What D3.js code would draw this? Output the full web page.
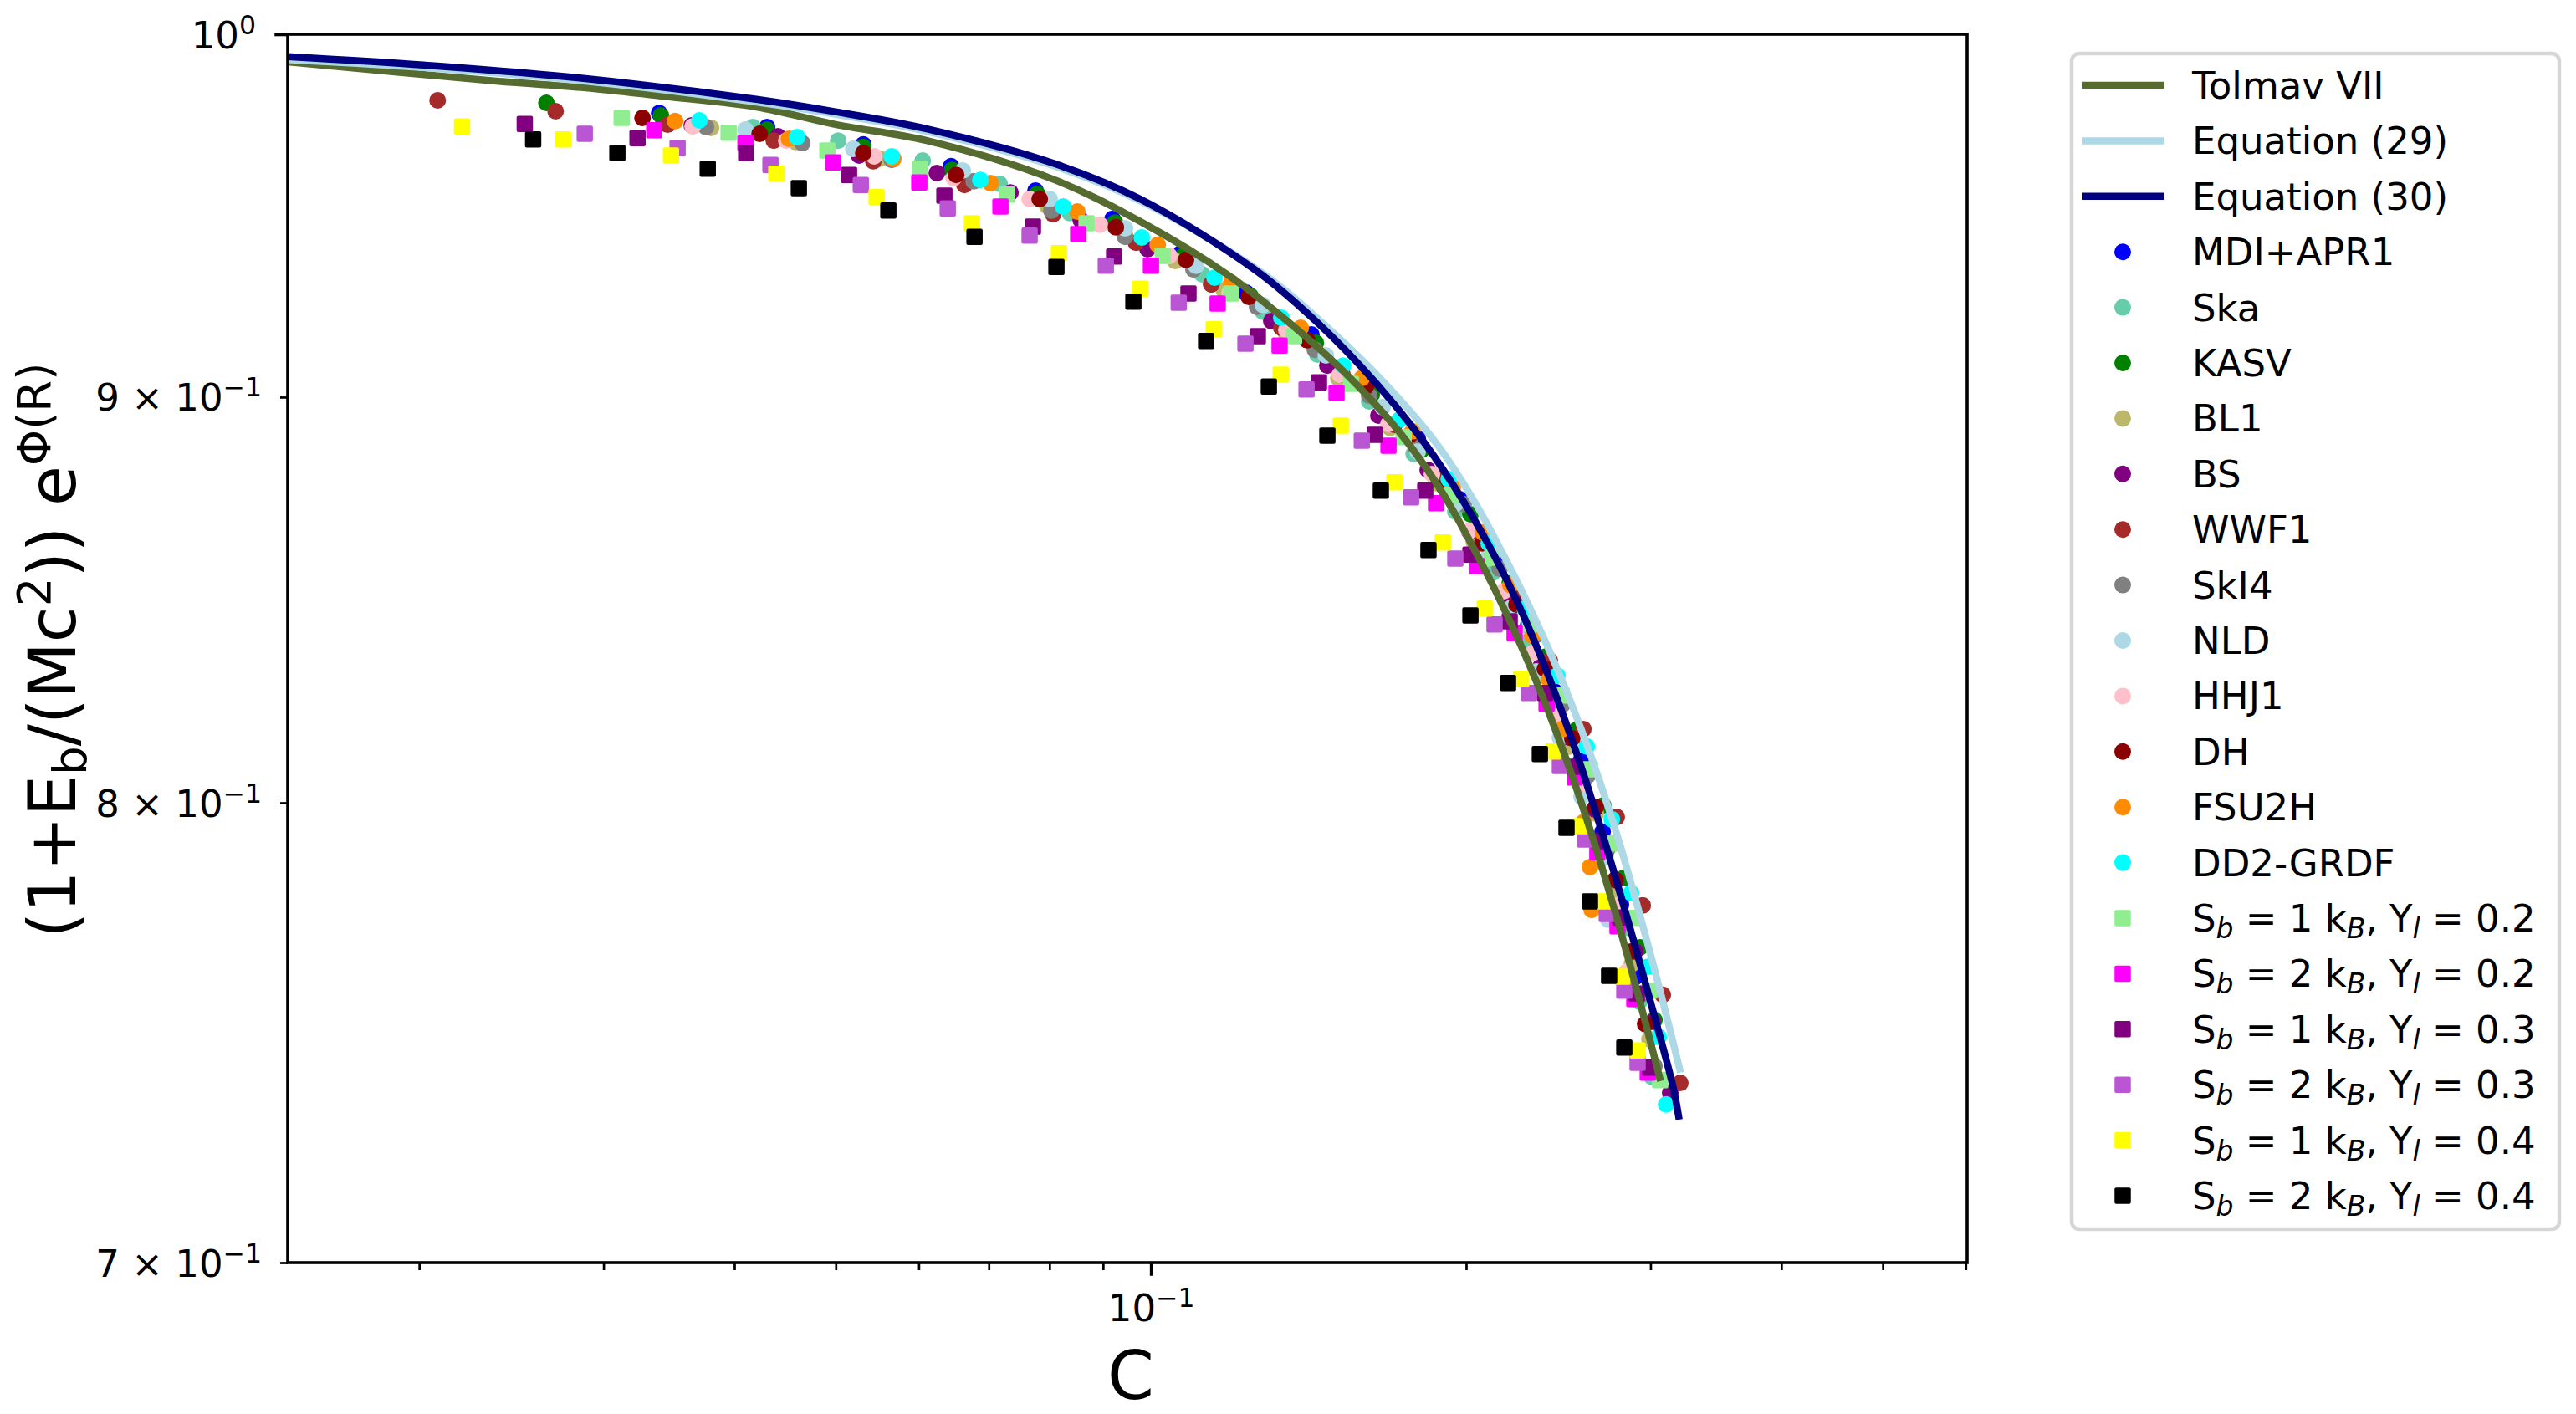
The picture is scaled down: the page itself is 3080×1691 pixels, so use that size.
<!DOCTYPE html>
<html>
<head>
<meta charset="utf-8">
<script src="https://cdn.jsdelivr.net/npm/d3@7"></script>
<style>
  body { margin: 0; background: #fff; }
  text { font-family: 'DejaVu Sans', sans-serif; fill: #000; }
</style>
</head>
<body>
<svg id="chart"></svg>
<script>
// curves: [C, (1+Eb/Mc^2) e^phi]
let tolmavVII = [[0.01498,0.9920],[0.02370,0.9865],[0.02884,0.9846],[0.03467,0.9820],[0.04198,0.9791],[0.05008,0.9741],[0.06108,0.9696],[0.08093,0.9586],[0.09764,0.9471],[0.1189,0.9322],[0.1352,0.9199],[0.1529,0.9066],[0.1727,0.8909],[0.1893,0.8759],[0.2032,0.8615],[0.2159,0.8480],[0.2316,0.8307],[0.2479,0.8118],[0.2639,0.7923],[0.2789,0.7733],[0.2934,0.7547],[0.3067,0.7379]]
let equation29 = [[0.01498,0.9927],[0.02083,0.9901],[0.02884,0.9865],[0.04198,0.9805],[0.05008,0.9770],[0.06108,0.9722],[0.08093,0.9624],[0.09764,0.9528],[0.1279,0.9329],[0.1490,0.9172],[0.1686,0.9026],[0.1872,0.8881],[0.2037,0.8731],[0.2174,0.8594],[0.2291,0.8476],[0.2453,0.8307],[0.2624,0.8118],[0.2789,0.7923],[0.2939,0.7733],[0.3086,0.7547],[0.3205,0.7397]]
let equation30 = [[0.01498,0.9935],[0.02083,0.9908],[0.02884,0.9872],[0.04198,0.9813],[0.05008,0.9777],[0.06108,0.9729],[0.08093,0.9631],[0.09764,0.9533],[0.1256,0.9340],[0.1442,0.9197],[0.1640,0.9037],[0.1825,0.8881],[0.1989,0.8731],[0.2129,0.8594],[0.2242,0.8476],[0.2391,0.8307],[0.2548,0.8118],[0.2703,0.7923],[0.2853,0.7733],[0.3003,0.7547],[0.3153,0.7366],[0.3195,0.7297]]

// equations of state (circles)
let mdiApr1 = [[0.03391,0.9774],[0.04299,0.9734],[0.05312,0.9685],[0.06443,0.9624],[0.07758,0.9556],[0.09189,0.9478],[0.1068,0.9384],[0.1233,0.9277],[0.1423,0.9165],[0.1610,0.9033],[0.1798,0.8892],[0.1971,0.8737],[0.2141,0.8584],[0.2292,0.8423],[0.2435,0.8261],[0.2573,0.8098],[0.2700,0.7933],[0.2811,0.7767],[0.2906,0.7606]]
let ska = [[0.04167,0.9734],[0.05027,0.9696],[0.06053,0.9640],[0.07169,0.9575],[0.08366,0.9494],[0.09746,0.9413],[0.1119,0.9327],[0.1279,0.9226],[0.1442,0.9112],[0.1616,0.8989],[0.1782,0.8853],[0.1953,0.8706],[0.2121,0.8553],[0.2292,0.8384],[0.2444,0.8217],[0.2588,0.8049],[0.2719,0.7881],[0.2832,0.7714],[0.2927,0.7551],[0.3009,0.7388]]
let kasv = [[0.02646,0.9803],[0.03404,0.9767],[0.04299,0.9727],[0.05312,0.9678],[0.06455,0.9614],[0.07787,0.9547],[0.09240,0.9468],[0.1074,0.9377],[0.1245,0.9268],[0.1437,0.9143],[0.1625,0.9007],[0.1815,0.8864],[0.2019,0.8699],[0.2201,0.8526],[0.2382,0.8347],[0.2550,0.8171],[0.2704,0.7994],[0.2827,0.7827],[0.2932,0.7671],[0.3026,0.7511]]
let bl1 = [[0.03801,0.9732],[0.04577,0.9692],[0.05511,0.9645],[0.06660,0.9582],[0.07960,0.9514],[0.09446,0.9434],[0.1055,0.9363],[0.1174,0.9284],[0.1345,0.9170],[0.1510,0.9050],[0.1692,0.8920],[0.1872,0.8778],[0.2034,0.8630],[0.2193,0.8476],[0.2347,0.8307],[0.2508,0.8132],[0.2660,0.7975],[0.2770,0.7795],[0.2879,0.7634],[0.2993,0.7469]]
let bs = [[0.03643,0.9739],[0.04403,0.9708],[0.05263,0.9654],[0.06245,0.9605],[0.07342,0.9551],[0.08568,0.9475],[0.09927,0.9395],[0.1142,0.9300],[0.1303,0.9201],[0.1474,0.9083],[0.1649,0.8952],[0.1838,0.8812],[0.2015,0.8655],[0.2189,0.8491],[0.2356,0.8323],[0.2508,0.8153],[0.2650,0.7985],[0.2780,0.7822],[0.2900,0.7662],[0.3015,0.7507],[0.3133,0.7354]]
let wwf1 = [[0.02083,0.9810],[0.02700,0.9779],[0.03454,0.9741],[0.04363,0.9696],[0.05430,0.9638],[0.06636,0.9572],[0.08064,0.9491],[0.09674,0.9413],[0.1142,0.9300],[0.1332,0.9183],[0.1524,0.9059],[0.1708,0.8928],[0.1889,0.8791],[0.2071,0.8647],[0.2242,0.8497],[0.2404,0.8337],[0.2588,0.8173],[0.2785,0.7967],[0.2949,0.7765],[0.3082,0.7566],[0.3203,0.7375]]
let skl4 = [[0.03759,0.9734],[0.04645,0.9689],[0.05655,0.9642],[0.06771,0.9582],[0.08034,0.9501],[0.09446,0.9429],[0.1098,0.9340],[0.1263,0.9239],[0.1434,0.9125],[0.1616,0.9004],[0.1791,0.8870],[0.1989,0.8725],[0.2153,0.8563],[0.2326,0.8398],[0.2471,0.8231],[0.2612,0.8063],[0.2730,0.7894],[0.2842,0.7727],[0.2938,0.7566],[0.3026,0.7411]]
let nld = [[0.04099,0.9727],[0.05196,0.9673],[0.06611,0.9612],[0.08004,0.9533],[0.09446,0.9452],[0.1104,0.9350],[0.1279,0.9244],[0.1469,0.9110],[0.1664,0.8974],[0.1798,0.8859],[0.1953,0.8725],[0.2094,0.8588],[0.2209,0.8466],[0.2334,0.8311],[0.2458,0.8153],[0.2578,0.8014],[0.2680,0.7865],[0.2735,0.7733]]
let hhj1 = [[0.03650,0.9736],[0.04485,0.9696],[0.05440,0.9652],[0.06479,0.9591],[0.07658,0.9533],[0.08939,0.9462],[0.1041,0.9377],[0.1189,0.9277],[0.1347,0.9177],[0.1515,0.9059],[0.1686,0.8930],[0.1855,0.8801],[0.2015,0.8657],[0.2173,0.8507],[0.2317,0.8356],[0.2449,0.8203],[0.2573,0.8043],[0.2680,0.7904],[0.2770,0.7765],[0.2847,0.7617]]
let dh = [[0.03269,0.9760],[0.04229,0.9715],[0.05312,0.9661],[0.06515,0.9600],[0.07830,0.9533],[0.09257,0.9455],[0.1080,0.9366],[0.1240,0.9266],[0.1410,0.9150],[0.1604,0.9028],[0.1768,0.8902],[0.1907,0.8767],[0.2071,0.8626],[0.2234,0.8474],[0.2378,0.8317],[0.2526,0.8151],[0.2660,0.7990],[0.2775,0.7823],[0.2879,0.7662],[0.2965,0.7502]]
let fsu2h = [[0.03512,0.9751],[0.04510,0.9701],[0.05675,0.9645],[0.07025,0.9577],[0.08505,0.9498],[0.1015,0.9407],[0.1193,0.9304],[0.1390,0.9183],[0.1590,0.9050],[0.1778,0.8911],[0.1942,0.8767],[0.2075,0.8653],[0.2205,0.8522],[0.2313,0.8398],[0.2400,0.8291],[0.2471,0.8173],[0.2540,0.8059],[0.2592,0.7956],[0.2626,0.7852],[0.2636,0.7755]]
let dd2Grdf = [[0.03704,0.9753],[0.04593,0.9706],[0.05655,0.9652],[0.06872,0.9586],[0.08244,0.9512],[0.09800,0.9427],[0.1150,0.9318],[0.1332,0.9210],[0.1526,0.9083],[0.1727,0.8941],[0.1925,0.8788],[0.2102,0.8626],[0.2275,0.8464],[0.2444,0.8301],[0.2607,0.8132],[0.2755,0.7962],[0.2874,0.7793],[0.2982,0.7628],[0.3054,0.7474],[0.3105,0.7329]]

// hot stars (squares)
let sb1Yl02 = [[0.03122,0.9760],[0.03950,0.9718],[0.04908,0.9668],[0.06019,0.9617],[0.07288,0.9545],[0.08679,0.9466],[0.1026,0.9377],[0.1193,0.9275],[0.1370,0.9161],[0.1552,0.9035],[0.1743,0.8896],[0.1935,0.8746],[0.2118,0.8590],[0.2300,0.8425],[0.2467,0.8253],[0.2626,0.8078],[0.2760,0.7906],[0.2884,0.7737],[0.2993,0.7575],[0.3064,0.7381]]
let sb2Yl02 = [[0.03354,0.9725],[0.04099,0.9689],[0.04972,0.9635],[0.06008,0.9579],[0.07182,0.9512],[0.08521,0.9436],[0.1000,0.9350],[0.1158,0.9248],[0.1327,0.9136],[0.1504,0.9011],[0.1686,0.8874],[0.1872,0.8727],[0.2049,0.8569],[0.2225,0.8404],[0.2387,0.8233],[0.2540,0.8059],[0.2669,0.7886],[0.2790,0.7718],[0.2895,0.7557],[0.2982,0.7397]]
let sb1Yl03 = [[0.02523,0.9743],[0.03233,0.9703],[0.04106,0.9661],[0.05148,0.9600],[0.06349,0.9542],[0.07714,0.9457],[0.09222,0.9375],[0.1086,0.9275],[0.1265,0.9161],[0.1447,0.9039],[0.1636,0.8902],[0.1828,0.8759],[0.2019,0.8598],[0.2201,0.8433],[0.2378,0.8259],[0.2540,0.8084],[0.2680,0.7911],[0.2806,0.7738],[0.2911,0.7569],[0.2998,0.7408]]
let sb2Yl03 = [[0.02879,0.9715],[0.03531,0.9675],[0.04331,0.9628],[0.05283,0.9572],[0.06396,0.9507],[0.07658,0.9432],[0.09055,0.9350],[0.1063,0.9250],[0.1231,0.9141],[0.1408,0.9020],[0.1590,0.8887],[0.1772,0.8742],[0.1953,0.8588],[0.2129,0.8425],[0.2296,0.8259],[0.2458,0.8086],[0.2597,0.7915],[0.2725,0.7746],[0.2832,0.7575],[0.2916,0.7418]]
let sb1Yl04 = [[0.02198,0.9736],[0.02745,0.9699],[0.03480,0.9654],[0.04387,0.9603],[0.05470,0.9538],[0.06746,0.9466],[0.08168,0.9384],[0.09764,0.9288],[0.1148,0.9179],[0.1330,0.9059],[0.1518,0.8926],[0.1708,0.8780],[0.1900,0.8628],[0.2083,0.8464],[0.2257,0.8293],[0.2422,0.8120],[0.2578,0.7946],[0.2709,0.7774],[0.2821,0.7606],[0.2916,0.7445]]
let sb2Yl04 = [[0.02570,0.9699],[0.03093,0.9661],[0.03773,0.9617],[0.04610,0.9563],[0.05613,0.9501],[0.06784,0.9429],[0.08123,0.9347],[0.09621,0.9253],[0.1129,0.9148],[0.1296,0.9028],[0.1474,0.8900],[0.1658,0.8759],[0.1841,0.8609],[0.2019,0.8447],[0.2193,0.8283],[0.2352,0.8114],[0.2494,0.7942],[0.2626,0.7774],[0.2739,0.7608],[0.2832,0.7451]]

let lineNames = ['Tolmav VII', 'Equation (29)', 'Equation (30)']
let lineColors = ['#556b2f', '#add8e6', '#000080']
let lineData = [tolmavVII, equation29, equation30]

let circleNames = ['MDI+APR1', 'Ska', 'KASV', 'BL1', 'BS', 'WWF1', 'SkI4', 'NLD', 'HHJ1', 'DH', 'FSU2H', 'DD2-GRDF']
let circleColors = ['#0000ff', '#66cdaa', '#008000', '#bdb76b', '#800080', '#a52a2a', '#808080', '#add8e6', '#ffc0cb', '#8b0000', '#ff8c00', '#00ffff']
let circleData = [mdiApr1, ska, kasv, bl1, bs, wwf1, skl4, nld, hhj1, dh, fsu2h, dd2Grdf]

// squares: entropy per baryon, lepton fraction
let squareSb = [1, 2, 1, 2, 1, 2]
let squareYl = ['0.2', '0.2', '0.3', '0.3', '0.4', '0.4']
let squareColors = ['#90ee90', '#ff00ff', '#800080', '#ba55d3', '#ffff00', '#000000']
let squareData = [sb1Yl02, sb2Yl02, sb1Yl03, sb2Yl03, sb1Yl04, sb2Yl04]

let xDomain = [0.01498, 0.6019]
let yDomain = [0.7, 1.0]
let xMajorTicks = [0.1]
let xMinorTicks = [0.02, 0.03, 0.04, 0.05, 0.06, 0.07, 0.08, 0.09, 0.2, 0.3, 0.4, 0.5, 0.6]
let yMajorTicks = [1.0]
let yMinorTicks = [0.7, 0.8, 0.9]
let yTickMantissa = { 1: '', 0.9: '9 \u00d7 ', 0.8: '8 \u00d7 ', 0.7: '7 \u00d7 ' }
let yTickExponent = { 1: '0', 0.9: '\u22121', 0.8: '\u22121', 0.7: '\u22121' }

let W = 3080
let H = 1691
let margin = { top: 41, left: 344, right: 728, bottom: 181 }
let width = W - margin.left - margin.right
let height = H - margin.top - margin.bottom

let root = d3.select('#chart').attr('width', W).attr('height', H)
root.append('rect').attr('width', W).attr('height', H).attr('fill', '#fff')

let svg = root.append('g')
  .attr('transform', 'translate(' + margin.left + ',' + margin.top + ')')

let xPositionScale = d3.scaleLog().domain(xDomain).range([0, width])
let yPositionScale = d3.scaleLog().domain(yDomain).range([height, 0])

svg.append('clipPath').attr('id', 'plot-clip')
  .append('rect').attr('width', width).attr('height', height)

let plot = svg.append('g').attr('clip-path', 'url(#plot-clip)')

// circles first, then squares, in legend order
circleData.forEach((series, i) => {
  plot.append('g')
    .selectAll('circle')
    .data(series)
    .enter()
    .append('circle')
    .attr('cx', d => xPositionScale(d[0]))
    .attr('cy', d => yPositionScale(d[1]))
    .attr('r', 10)
    .attr('fill', circleColors[i])
})

let sq = 19.5
squareData.forEach((series, i) => {
  plot.append('g')
    .selectAll('rect')
    .data(series)
    .enter()
    .append('rect')
    .attr('x', d => xPositionScale(d[0]) - sq / 2)
    .attr('y', d => yPositionScale(d[1]) - sq / 2)
    .attr('width', sq)
    .attr('height', sq)
    .attr('rx', 2)
    .attr('fill', squareColors[i])
})

let line = d3.line()
  .x(d => xPositionScale(d[0]))
  .y(d => yPositionScale(d[1]))
  .curve(d3.curveCatmullRom.alpha(0.5))

lineData.forEach((series, i) => {
  plot.append('path')
    .attr('d', line(series))
    .attr('fill', 'none')
    .attr('stroke', lineColors[i])
    .attr('stroke-width', 8.5)
})

// frame
svg.append('rect')
  .attr('width', width)
  .attr('height', height)
  .attr('fill', 'none')
  .attr('stroke', '#000')
  .attr('stroke-width', 3.6)

// axes
function cleanAxis(g, w) {
  g.select('.domain').remove()
  g.selectAll('.tick line').attr('stroke', '#000').attr('stroke-width', w)
}

svg.append('g')
  .attr('transform', 'translate(0,' + height + ')')
  .call(d3.axisBottom(xPositionScale).tickValues(xMinorTicks).tickSize(9).tickFormat(''))
  .call(g => cleanAxis(g, 2.7))

svg.append('g')
  .attr('class', 'x-major')
  .attr('transform', 'translate(0,' + height + ')')
  .call(d3.axisBottom(xPositionScale).tickValues(xMajorTicks).tickSize(15.75).tickFormat(''))
  .call(g => cleanAxis(g, 3.6))

svg.select('.x-major').selectAll('.tick')
  .append('text')
  .attr('y', 70)
  .attr('text-anchor', 'middle')
  .attr('font-size', 45)
  .each(function(d) {
    let t = d3.select(this)
    t.append('tspan').text('10')
    t.append('tspan').attr('font-size', 31.5).attr('dy', -17).text('\u2212' + Math.round(-Math.log10(d)))
  })

svg.append('g')
  .attr('class', 'y-minor')
  .call(d3.axisLeft(yPositionScale).tickValues(yMinorTicks).tickSize(9).tickFormat(''))
  .call(g => cleanAxis(g, 2.7))

svg.append('g')
  .attr('class', 'y-major')
  .call(d3.axisLeft(yPositionScale).tickValues(yMajorTicks).tickSize(15.75).tickFormat(''))
  .call(g => cleanAxis(g, 3.6))

svg.selectAll('.y-minor .tick, .y-major .tick')
  .append('text')
  .attr('x', d => (d === 1 ? -38 : -31))
  .attr('y', 16)
  .attr('text-anchor', 'end')
  .attr('font-size', 45)
  .each(function(d) {
    let t = d3.select(this)
    t.append('tspan').text(yTickMantissa[d] + '10')
    t.append('tspan').attr('font-size', 31.5).attr('dy', -17).text(yTickExponent[d])
  })

// axis labels
svg.append('text')
  .attr('x', width / 2 + 4)
  .attr('y', 1673 - margin.top)
  .attr('text-anchor', 'middle')
  .attr('font-size', 80)
  .text('C')

let yLabel = svg.append('text')
  .attr('transform', 'translate(' + (90 - margin.left) + ',' + (height / 2 + 2) + ') rotate(-90)')
  .attr('text-anchor', 'middle')
  .attr('font-size', 78)
yLabel.append('tspan').text('(1+E')
yLabel.append('tspan').attr('font-size', 54.6).attr('dy', 13).text('b')
yLabel.append('tspan').attr('dy', -13).text('/(Mc')
yLabel.append('tspan').attr('font-size', 54.6).attr('dy', -30).text('2')
yLabel.append('tspan').attr('dy', 30).text(')) e')
yLabel.append('tspan').attr('font-size', 54.6).attr('dy', -30).text('\u03a6(R)')

// legend
let legend = root.append('g')
legend.append('rect')
  .attr('x', 2477)
  .attr('y', 64)
  .attr('width', 583)
  .attr('height', 1406)
  .attr('rx', 9)
  .attr('fill', '#fff')
  .attr('stroke', '#d6d6d6')
  .attr('stroke-width', 4.5)

let rowY = i => 102 + i * 66.4
let textX = 2621

lineNames.forEach((name, i) => {
  legend.append('line')
    .attr('x1', 2489).attr('x2', 2587)
    .attr('y1', rowY(i)).attr('y2', rowY(i))
    .attr('stroke', lineColors[i])
    .attr('stroke-width', 8.5)
  legend.append('text')
    .attr('x', textX).attr('y', rowY(i) + 16)
    .attr('font-size', 45)
    .text(name)
})

circleNames.forEach((name, i) => {
  let r = i + 3
  legend.append('circle')
    .attr('cx', 2538).attr('cy', rowY(r)).attr('r', 10)
    .attr('fill', circleColors[i])
  legend.append('text')
    .attr('x', textX).attr('y', rowY(r) + 16)
    .attr('font-size', 45)
    .text(name)
})

squareColors.forEach((c, i) => {
  let r = i + 15
  legend.append('rect')
    .attr('x', 2538 - sq / 2).attr('y', rowY(r) - sq / 2)
    .attr('width', sq).attr('height', sq).attr('rx', 2)
    .attr('fill', c)
  let t = legend.append('text')
    .attr('x', textX).attr('y', rowY(r) + 16)
    .attr('font-size', 45)
  t.append('tspan').text('S')
  t.append('tspan').attr('font-size', 33).attr('font-style', 'italic').attr('dy', 8).text('b')
  t.append('tspan').attr('dy', -8).text(' = ' + squareSb[i] + ' k')
  t.append('tspan').attr('font-size', 33).attr('font-style', 'italic').attr('dy', 8).text('B')
  t.append('tspan').attr('dy', -8).text(', Y')
  t.append('tspan').attr('font-size', 33).attr('font-style', 'italic').attr('dy', 8).text('l')
  t.append('tspan').attr('dy', -8).text(' = ' + squareYl[i])
})
</script>
</body>
</html>
